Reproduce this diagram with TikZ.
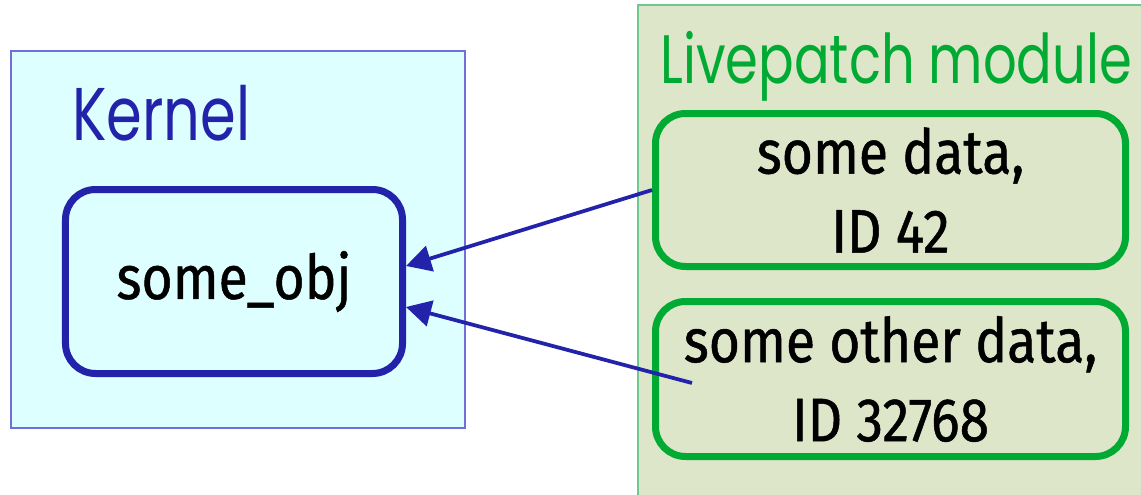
\documentclass[tikz,border=0pt]{standalone}
\usepackage{fontspec}
\setmainfont{Fira Sans}[FakeStretch=0.87, FakeBold=0.8]
\newfontfamily\titlefont{Poppins}[FakeStretch=0.77]
\usetikzlibrary{arrows.meta}
\definecolor{kblue}{HTML}{2222AA}
\definecolor{kfill}{HTML}{DDFFFF}
\definecolor{kline}{HTML}{7070D8}
\definecolor{lgreen}{HTML}{00AA33}
\definecolor{lfill}{HTML}{DDE6C9}
\definecolor{lline}{HTML}{70C890}
\begin{document}
\begin{tikzpicture}[
    obj/.style={draw, rounded corners=0.6cm, line width=0.14cm, align=center,
      font=\fontsize{35}{45}\selectfont, inner sep=0pt},
    ref/.style={kblue, line width=0.075cm, -{Triangle[length=0.5cm,width=0.52cm]}}
  ]
          \useasboundingbox (0,0) rectangle (22.82,-9.9);
          \fill[white] (0,0) rectangle (22.82,-9.9);

          \draw[kline, fill=kfill, line width=0.03cm] (0.22,-1.02) rectangle (9.3,-8.56);
          \node[kblue, anchor=base west, inner sep=0pt, font=\titlefont\fontsize{42.5}{42.5}\selectfont] (kernel) at (1.44,-2.8) {Kernel};

          \draw[lline, fill=lfill, line width=0.03cm] (12.76,-0.1) rectangle (23.2,-10.2);
          \node[lgreen, anchor=base west, inner sep=0pt, font=\titlefont\fontsize{39}{39}\selectfont] (livepatch) at (13.2,-1.66) {Livepatch module};

          \node[obj, draw=kblue, fill=kfill, minimum width=6.74cm, minimum height=3.68cm] (obj) at (4.68,-5.63) {some\_obj};

          \node[obj, draw=lgreen, fill=lfill, minimum width=9.4cm, minimum height=3.06cm] (data1) at (17.81,-3.8) {some data,\\ID 42};
          \node[obj, draw=lgreen, fill=lfill, minimum width=9.4cm, minimum height=3.1cm] (data2) at (17.81,-7.58) {some other data,\\ID 32768};

          \coordinate (tail) at (13.84,-7.66);
          \draw[ref] (data1.west) -- ([yshift=0.31cm]obj.east);
          \draw[ref] (tail) -- ([yshift=-0.51cm]obj.east);

      \end{tikzpicture}
\end{document}
